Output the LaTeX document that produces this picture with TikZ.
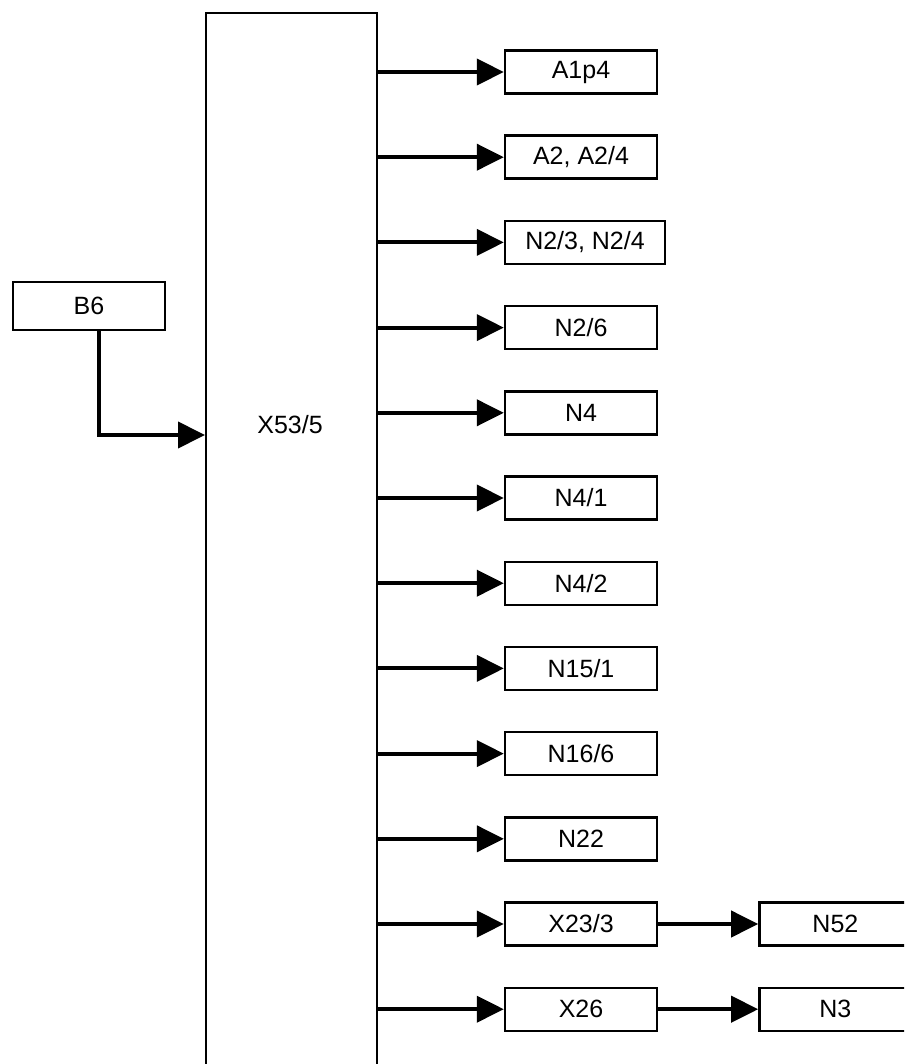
\documentclass[tikz,border=0pt]{standalone}
\usepackage{fontspec}
\setmainfont{Liberation Sans}
\usetikzlibrary{arrows.meta,positioning}
\tikzset{>={Triangle[length=27pt,width=26pt]}}

\begin{document}
\begin{tikzpicture}[
    x=1pt, y=-1pt,
    unit/.style={draw, line width=2.4pt, minimum width=152pt, minimum height=43pt, inner xsep=12pt},
    hubbox/.style={draw, line width=2.4pt, minimum width=171pt, minimum height=1100pt, anchor=north},
    feed/.style={->, line width=4pt},
    every node/.style={font=\fontsize{25}{30}\selectfont},
    node distance=39.8pt and 100pt
  ]
    \clip (0,0) rectangle (904,1064);
    \fill[white] (0,0) rectangle (904,1064);
    % hub with open bottom
    \node[hubbox] (hub) at (291.5,12) {};
    \node (hubname) at (290,425) {X53/5};
    \node[unit, minimum height=48pt] (b6) at (89,306) {B6};
    \coordinate (hubin) at (205,435);
    % outputs
    \node[unit] (a1p4) at (581,72) {A1p4};
    \node[unit, below=of a1p4] (a2) {A2, A2/4};
    \node[unit, below=of a2, minimum width=160pt, xshift=4pt] (n23) {N2/3, N2/4};
    \node[unit, below=of n23, xshift=-4pt] (n26) {N2/6};
    \node[unit, below=of n26] (n4) {N4};
    \node[unit, below=of n4] (n41) {N4/1};
    \node[unit, below=of n41] (n42) {N4/2};
    \node[unit, below=of n42] (n151) {N15/1};
    \node[unit, below=of n151] (n166) {N16/6};
    \node[unit, below=of n166] (n22) {N22};
    \node[unit, below=of n22] (x233) {X23/3};
    \node[unit, below=of x233] (x26) {X26};
    \node[unit, right=of x233] (n52) {N52};
    \node[unit, right=of x26] (n3) {N3};
    \draw[feed] ([xshift=10pt]b6.south) |- (hubin);
    \draw[feed] (hub.east |- a1p4) -- (a1p4);
    \draw[feed] (hub.east |- a2) -- (a2);
    \draw[feed] (hub.east |- n23) -- (n23);
    \draw[feed] (hub.east |- n26) -- (n26);
    \draw[feed] (hub.east |- n4) -- (n4);
    \draw[feed] (hub.east |- n41) -- (n41);
    \draw[feed] (hub.east |- n42) -- (n42);
    \draw[feed] (hub.east |- n151) -- (n151);
    \draw[feed] (hub.east |- n166) -- (n166);
    \draw[feed] (hub.east |- n22) -- (n22);
    \draw[feed] (hub.east |- x233) -- (x233);
    \draw[feed] (hub.east |- x26) -- (x26);
    \draw[feed] (x233) -- (n52);
    \draw[feed] (x26) -- (n3);
  \end{tikzpicture}
\end{document}
